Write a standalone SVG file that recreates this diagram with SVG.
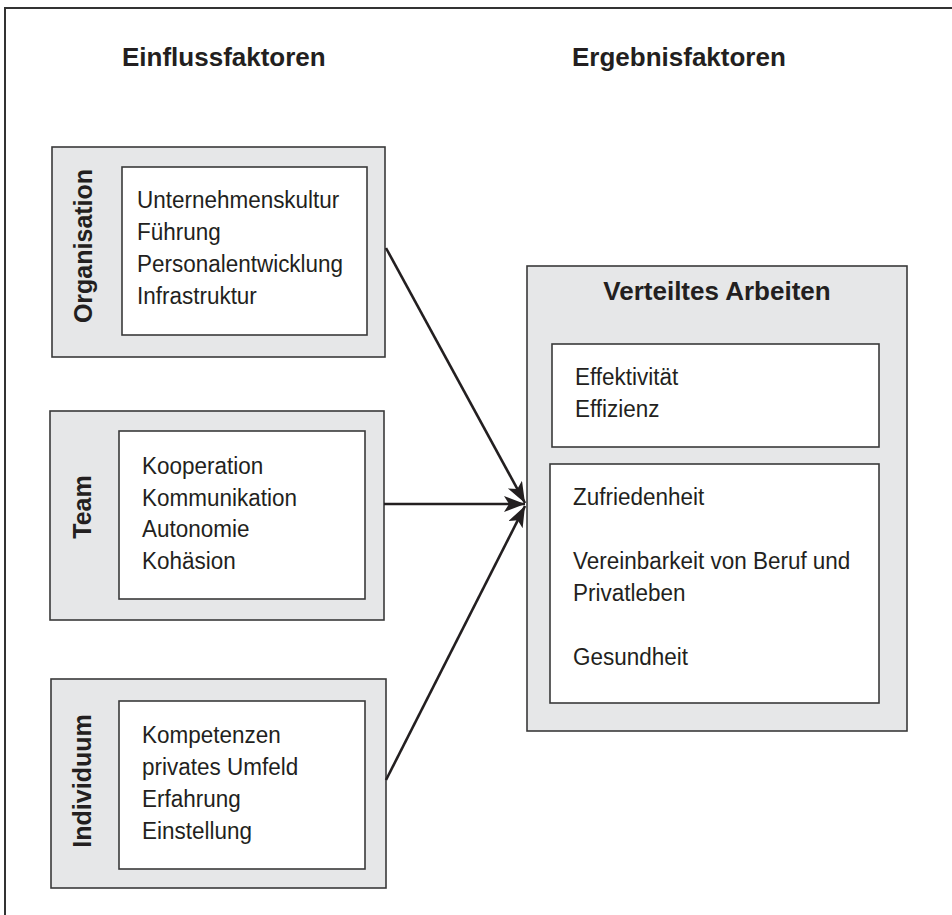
<svg xmlns="http://www.w3.org/2000/svg" width="952" height="915" viewBox="0 0 952 915">
<defs>
<style>
.outer{fill:#e6e7e8;stroke:#3a3a3a;stroke-width:1.6}
.inner{fill:#ffffff;stroke:#3a3a3a;stroke-width:1.6}
.t{font-family:"Liberation Sans",Arial,sans-serif;font-size:24.5px;fill:#231f20}
.b{font-family:"Liberation Sans",Arial,sans-serif;font-weight:bold;font-size:25px;fill:#231f20}
.h{font-family:"Liberation Sans",Arial,sans-serif;font-weight:bold;font-size:26px;fill:#231f20}
.c{stroke:#231f20;stroke-width:2.6;fill:none}
</style>
<marker id="ah" markerUnits="userSpaceOnUse" markerWidth="24" markerHeight="18" refX="21" refY="8" orient="auto">
<path d="M0,0 L21,8 L0,16 L5,8 z" fill="#231f20"/>
</marker>
</defs>
<rect width="952" height="915" fill="#ffffff"/>
<path d="M5,915 L5,8 L952,8" fill="none" stroke="#333333" stroke-width="2"/>
<g id="headings">
<text class="h" x="122" y="66">Einflussfaktoren</text>
<text class="h" x="572" y="66">Ergebnisfaktoren</text>
</g>
<g id="organisation">
<rect class="outer" x="52" y="147" width="333" height="210"/>
<rect class="inner" x="122" y="167" width="245" height="168"/>
<text class="b" transform="translate(92,246) rotate(-90)" text-anchor="middle">Organisation</text>
<g transform="scale(0.918,1)">
<text class="t" x="149.2" y="208">Unternehmenskultur</text>
<text class="t" x="149.2" y="240">Führung</text>
<text class="t" x="149.2" y="272">Personalentwicklung</text>
<text class="t" x="149.2" y="304">Infrastruktur</text>
</g>
</g>
<g id="team">
<rect class="outer" x="50" y="411" width="334" height="209"/>
<rect class="inner" x="119" y="431" width="246" height="168"/>
<text class="b" transform="translate(91,507) rotate(-90)" text-anchor="middle">Team</text>
<g transform="scale(0.918,1)">
<text class="t" x="154.7" y="474">Kooperation</text>
<text class="t" x="154.7" y="506">Kommunikation</text>
<text class="t" x="154.7" y="537">Autonomie</text>
<text class="t" x="154.7" y="569">Kohäsion</text>
</g>
</g>
<g id="individuum">
<rect class="outer" x="51" y="679" width="335" height="209"/>
<rect class="inner" x="119" y="701" width="246" height="168"/>
<text class="b" transform="translate(91,781) rotate(-90)" text-anchor="middle">Individuum</text>
<g transform="scale(0.918,1)">
<text class="t" x="154.7" y="743">Kompetenzen</text>
<text class="t" x="154.7" y="775">privates Umfeld</text>
<text class="t" x="154.7" y="807">Erfahrung</text>
<text class="t" x="154.7" y="839">Einstellung</text>
</g>
</g>
<g id="verteiltes-arbeiten">
<rect class="outer" x="527" y="266" width="380" height="465"/>
<text class="h" x="717" y="300" text-anchor="middle">Verteiltes Arbeiten</text>
<rect class="inner" x="552" y="344" width="327" height="103"/>
<rect class="inner" x="550" y="464" width="329" height="239"/>
<g transform="scale(0.918,1)">
<text class="t" x="626.4" y="385">Effektivität</text>
<text class="t" x="626.4" y="417">Effizienz</text>
<text class="t" x="624.2" y="505">Zufriedenheit</text>
<text class="t" x="624.2" y="569">Vereinbarkeit von Beruf und</text>
<text class="t" x="624.2" y="601">Privatleben</text>
<text class="t" x="624.2" y="665">Gesundheit</text>
</g>
</g>
<g id="connectors">
<line class="c" x1="386" y1="248" x2="525" y2="503" marker-end="url(#ah)"/>
<line class="c" x1="384" y1="504" x2="525" y2="504" marker-end="url(#ah)"/>
<line class="c" x1="386" y1="780" x2="525" y2="506" marker-end="url(#ah)"/>
</g>
</svg>
